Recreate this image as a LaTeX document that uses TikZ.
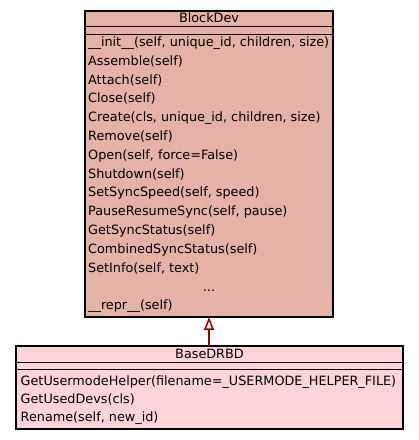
\documentclass[tikz,border=0pt]{standalone}
\usepackage{fontspec}
\setmainfont{DejaVu Sans}
\usetikzlibrary{arrows.meta}
\definecolor{blockfill}{HTML}{E4B3A5}
\definecolor{basefill}{HTML}{FFD4D8}
\definecolor{inherit}{HTML}{8B0A0A}
\tikzset{
  classbox/.style={draw=black, line width=1.2pt},
  sepline/.style={draw=black, line width=1pt},
  meth/.style={anchor=base west, inner sep=0pt, font=\fontsize{12.8}{14}\selectfont},
  ctitle/.style={anchor=base, inner sep=0pt, font=\fontsize{12.8}{14}\selectfont},
  gen/.style={draw=inherit, line width=2pt, -{Triangle[open, length=13pt, width=10pt, line width=1.6pt]}}
}
\begin{document}
\begin{tikzpicture}[x=1pt, y=-1pt]
\useasboundingbox (0,0) rectangle (419,440);
% BlockDev
\filldraw[classbox, fill=blockfill] (85,11) rectangle (333,317);
\draw[sepline] (85,26.5) -- (333,26.5);
\draw[sepline] (85,34) -- (333,34);
\node[ctitle] (bdtitle) at (209,22.7) {BlockDev};
\foreach \t [count=\i from 0] in {{\_\_init\_\_(self, unique\_id, children, size)},{Assemble(self)},{Attach(self)},{Close(self)},{Create(cls, unique\_id, children, size)},{Remove(self)},{Open(self, force=False)},{Shutdown(self)},{SetSyncSpeed(self, speed)},{PauseResumeSync(self, pause)},{GetSyncStatus(self)},{CombinedSyncStatus(self)},{SetInfo(self, text)}}
  \node[meth] (bdm\i) at (88,46.5+18.8*\i) {\t};
\node[ctitle] (bddots) at (209,291.5) {...};
\node[meth] (bdrepr) at (88,309.5) {\_\_repr\_\_(self)};
\coordinate (bdbottom) at (209,317);
% BaseDRBD
\filldraw[classbox, fill=basefill] (16,346) rectangle (403,429);
\draw[sepline] (16,362) -- (403,362);
\draw[sepline] (16,369.5) -- (403,369.5);
\node[ctitle] (dtitle) at (209.5,358) {BaseDRBD};
\node[meth] (dm0) at (20.5,385) {GetUsermodeHelper(filename=\_USERMODE\_HELPER\_FILE)};
\node[meth] (dm1) at (20.5,403.3) {GetUsedDevs(cls)};
\node[meth] (dm2) at (20.5,421.7) {Rename(self, new\_id)};
\coordinate (dtop) at (209,345.5);
% inheritance
\draw[gen] (dtop) -- (bdbottom);
\end{tikzpicture}
\end{document}
